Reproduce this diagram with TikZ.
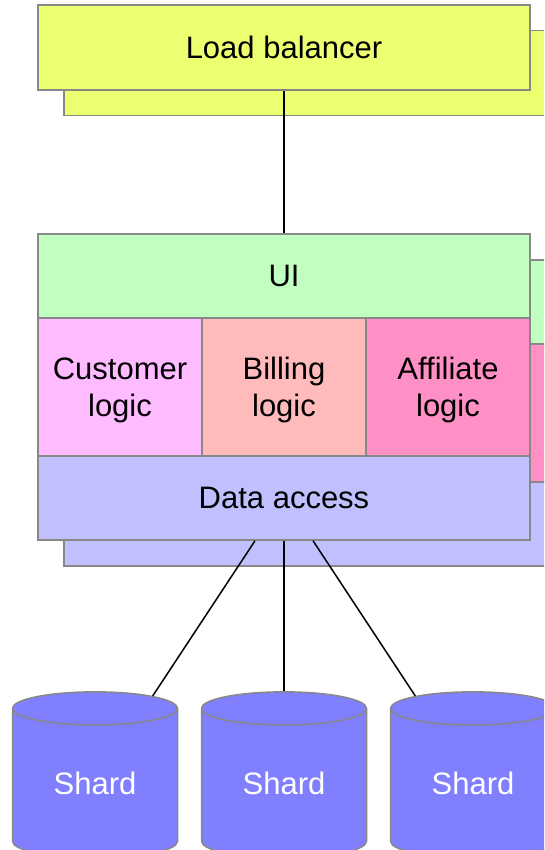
\documentclass[tikz,border=0pt]{standalone}
\usepackage{fontspec}
\setmainfont{Liberation Sans}
\usetikzlibrary{shapes.geometric}

\definecolor{lbyellow}{RGB}{236,255,112}
\definecolor{uigreen}{RGB}{192,255,192}
\definecolor{custpink}{RGB}{255,187,255}
\definecolor{billrose}{RGB}{255,187,187}
\definecolor{affpink}{RGB}{255,144,198}
\definecolor{datablue}{RGB}{192,192,255}
\definecolor{shardblue}{RGB}{128,128,255}
\definecolor{boxgray}{RGB}{136,136,136}

\begin{document}
\begin{tikzpicture}[x=1pt, y=-1pt,
	every node/.style={draw=boxgray, line width=1.5pt, inner sep=0pt, align=center, font=\fontsize{31}{37}\selectfont},
	tier/.style={rectangle, minimum width=492pt, minimum height=84pt},
	part/.style={rectangle, minimum width=164pt, minimum height=138pt, text depth=0pt},
	db/.style={cylinder, shape border rotate=90, aspect=0.4, minimum width=165pt, minimum height=166pt, fill=shardblue, text=white},
	link/.style={draw=black, line width=1.5pt}]
			\useasboundingbox (0,0) rectangle (544,850);
			\clip (0,0) rectangle (544,850);
			
			% copies behind
			\node[tier, fill=lbyellow, minimum height=85pt] (lbback) at (310,73){};
			\node[tier, fill=uigreen] (uiback) at (310,302){};
			\node[part, fill=custpink] (custback) at (146,413){};
			\node[part, fill=billrose] (billback) at (310,413){};
			\node[part, fill=affpink] (affback) at (474,413){};
			\node[tier, fill=datablue] (databack) at (310,524){};
			
			\node[tier, fill=lbyellow, minimum height=85pt] (lb) at (284,47.5){Load balancer};
			\node[tier, fill=uigreen] (ui) at (284,276){UI};
			\node[part, fill=custpink] (cust) at (120,387){Customer\\logic};
			\node[part, fill=billrose] (bill) at (284,387){Billing\\logic};
			\node[part, fill=affpink] (aff) at (448,387){Affiliate\\logic};
			\node[tier, fill=datablue] (data) at (284,498){Data access};
			
			\foreach \i/\x in {1/95,2/284,3/473}
				\node[db] (shard\i) at (\x,783.5){\raisebox{-3pt}{Shard}};
			
			\path (lb) edge[link] (ui);
			\path ([xshift=-29pt]data.south) edge[link] (shard1);
			\path (data) edge[link] (shard2);
			\path ([xshift=29pt]data.south) edge[link] (shard3);
\end{tikzpicture}
\end{document}
